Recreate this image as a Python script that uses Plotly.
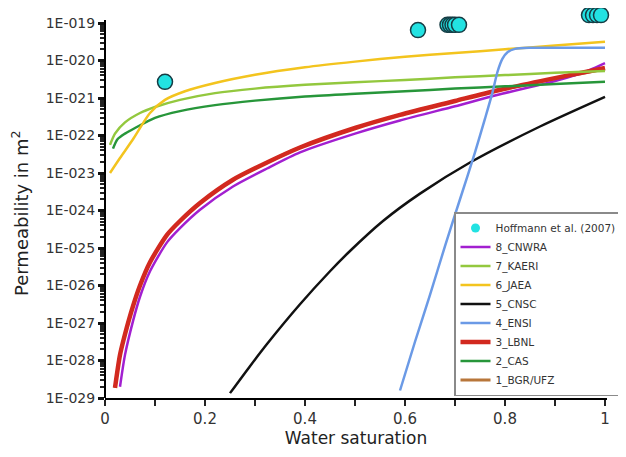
import plotly.graph_objects as go

# ---------------- data (log10 of permeability in m^2) -------------
hoff_sw = [0.12, 0.626, 0.685, 0.69, 0.695, 0.70, 0.708, 0.968, 0.976, 0.984, 0.992]
hoff_logk = [-20.57, -19.19, -19.05, -19.05, -19.05, -19.05, -19.05, -18.79, -18.79, -18.79, -18.79]

cnwra_sw = [0.03, 0.04, 0.056, 0.07, 0.09, 0.124, 0.15, 0.19, 0.256, 0.324, 0.39, 0.50, 0.59, 0.70, 0.784, 0.90, 0.95, 0.97, 1.00]
cnwra_logk = [-28.7, -27.85, -26.95, -26.3, -25.62, -24.85, -24.47, -23.98, -23.36, -22.88, -22.45, -21.95, -21.6, -21.22, -20.92, -20.55, -20.35, -20.25, -20.07]

kaeri_sw = [0.01, 0.02, 0.04, 0.07, 0.10, 0.15, 0.22, 0.30, 0.40, 0.50, 0.60, 0.70, 0.80, 0.90, 1.00]
kaeri_logk = [-22.25, -21.95, -21.65, -21.4, -21.24, -21.05, -20.87, -20.75, -20.65, -20.58, -20.52, -20.45, -20.39, -20.33, -20.28]

jaea_sw = [0.01, 0.03, 0.056, 0.09, 0.12, 0.16, 0.22, 0.30, 0.40, 0.50, 0.60, 0.70, 0.80, 0.90, 1.00]
jaea_logk = [-23.0, -22.6, -22.1, -21.4, -21.05, -20.82, -20.6, -20.38, -20.18, -20.03, -19.9, -19.8, -19.7, -19.6, -19.5]

cnsc_sw = [0.25, 0.29, 0.324, 0.39, 0.45, 0.49, 0.556, 0.63, 0.73, 0.87, 1.00]
cnsc_logk = [-28.87, -28.15, -27.56, -26.5, -25.62, -25.08, -24.28, -23.55, -22.72, -21.76, -20.97]

ensi_sw = [0.59, 0.62, 0.65, 0.68, 0.71, 0.74, 0.76, 0.775, 0.785, 0.795, 0.805, 0.82, 0.85, 0.90, 1.00]
ensi_logk = [-28.8, -27.5, -26.25, -24.95, -23.7, -22.45, -21.55, -20.85, -20.3, -19.95, -19.78, -19.69, -19.66, -19.66, -19.66]

lbnl_sw = [0.02, 0.03, 0.04, 0.056, 0.07, 0.09, 0.124, 0.15, 0.19, 0.256, 0.324, 0.39, 0.50, 0.59, 0.70, 0.784, 0.90, 1.00]
lbnl_logk = [-28.73, -27.85, -27.3, -26.55, -26.0, -25.38, -24.65, -24.28, -23.8, -23.18, -22.72, -22.32, -21.8, -21.45, -21.08, -20.8, -20.47, -20.2]

cas_sw = [0.016, 0.025, 0.04, 0.06, 0.10, 0.15, 0.22, 0.30, 0.40, 0.50, 0.60, 0.70, 0.80, 0.90, 1.00]
cas_logk = [-22.35, -22.1, -21.95, -21.8, -21.53, -21.35, -21.19, -21.07, -20.96, -20.89, -20.82, -20.75, -20.69, -20.63, -20.57]

bgr_sw = [0.02, 0.03, 0.04, 0.056, 0.07, 0.09, 0.124, 0.15, 0.19, 0.256, 0.324, 0.39, 0.50, 0.59, 0.70, 0.784, 0.90, 1.00]
bgr_logk = [-28.73, -27.85, -27.3, -26.55, -26.0, -25.38, -24.65, -24.28, -23.8, -23.18, -22.72, -22.32, -21.8, -21.45, -21.08, -20.81, -20.49, -20.23]

ytick_exp = list(range(-29, -18))
ytick_text = ["1E-0%02d" % (-e) for e in ytick_exp]
xtick_vals = [0, 0.2, 0.4, 0.6, 0.8, 1.0]
xtick_text = ["0", "0.2", "0.4", "0.6", "0.8", "1"]

FONT = "DejaVu Sans, Verdana, sans-serif"


def k(vals):
    return [10 ** v for v in vals]


fig = go.Figure()

# drawing order (bottom -> top); legendrank controls legend order
series = [
    ("1_BGR/UFZ", bgr_sw, bgr_logk, "#b8763a", 3, 8),
    ("8_CNWRA", cnwra_sw, cnwra_logk, "#a21fd0", 2.5, 1),
    ("3_LBNL", lbnl_sw, lbnl_logk, "#d2291f", 4.5, 6),
    ("2_CAS", cas_sw, cas_logk, "#27963a", 2.5, 7),
    ("7_KAERI", kaeri_sw, kaeri_logk, "#93c83e", 2.5, 2),
    ("6_JAEA", jaea_sw, jaea_logk, "#f3c41e", 2.5, 3),
    ("5_CNSC", cnsc_sw, cnsc_logk, "#111111", 2.5, 4),
    ("4_ENSI", ensi_sw, ensi_logk, "#6b9ae6", 2.5, 5),
]
for name, xs, ys, col, w, rank in series:
    fig.add_trace(go.Scatter(
        x=xs, y=k(ys), mode="lines", name=name,
        line=dict(color=col, width=w, shape="spline", smoothing=0.7),
        legendrank=rank,
    ))

fig.add_trace(go.Scatter(
    x=hoff_sw, y=k(hoff_logk), mode="markers", name="Hoffmann et al. (2007)",
    marker=dict(size=15, color="#22e2e2", line=dict(color="#163c44", width=1.5)),
    cliponaxis=False, showlegend=False,
))
fig.add_trace(go.Scatter(
    x=[None], y=[None], mode="markers", name="Hoffmann et al. (2007)",
    marker=dict(size=9, color="#22e2e2"), legendrank=0,
))

minor_vals = [m * 10 ** e for e in range(-29, -19) for m in range(2, 10)]

# page body has an 8 px margin, so the figure is drawn 8 px smaller and everything
# is placed 8 px up/left of the reference pixel positions.
FIG_W, FIG_H = 618, 449
L_M, R_M, TOP_M, BOT_M = 97, 19, 0, 59
plot_w = FIG_W - L_M - R_M
plot_h = FIG_H - TOP_M - BOT_M          # 1E-029 at bottom, 37.5 px per decade
axis_frac = 375.0 / plot_h
y_top = -29 + plot_h / 37.5

fig.update_layout(
    width=FIG_W, height=FIG_H,
    margin=dict(l=L_M, r=R_M, t=TOP_M, b=BOT_M, autoexpand=False),
    paper_bgcolor="white", plot_bgcolor="white",
    font=dict(family=FONT, color="#333333"),
    legend=dict(
        x=(446 - L_M) / plot_w, y=(390 - 204) / plot_h, xanchor="left", yanchor="top",
        bgcolor="white", bordercolor="#8a8a8a", borderwidth=1.5,
        font=dict(family=FONT, size=10.5, color="#333333"),
        tracegroupgap=0, itemwidth=30,
    ),
    showlegend=True,
    shapes=[dict(type="line", xref="paper", yref="paper", x0=0, x1=0, y0=0, y1=axis_frac + 0.008,
                 line=dict(color="black", width=2), layer="above")],
    annotations=[dict(
        text="Permeability in m<sup>2</sup>", textangle=-90, showarrow=False,
        xref="paper", yref="paper", x=(12 - L_M) / plot_w, y=(390 - 205) / plot_h,
        xanchor="center", yanchor="middle",
        font=dict(family=FONT, size=18, color="#222222"),
    )],
)
fig.update_xaxes(
    range=[0, 1.004], showgrid=False, zeroline=False, automargin=False,
    showline=True, linecolor="black", linewidth=2,
    tickmode="array", tickvals=xtick_vals, ticktext=xtick_text,
    ticks="outside", ticklen=6, tickwidth=2, tickcolor="#222222",
    minor=dict(dtick=0.1, ticks="outside", ticklen=6, tickwidth=2, tickcolor="#222222"),
    tickfont=dict(family=FONT, size=15, color="#333333"),
    title=dict(text="Water saturation", font=dict(family=FONT, size=17, color="#222222"), standoff=4),
)
fig.update_yaxes(
    type="log", range=[-29, y_top], showgrid=False, zeroline=False, automargin=False,
    showline=False,
    tickmode="array", tickvals=[10 ** e for e in ytick_exp], ticktext=ytick_text,
    ticks="outside", ticklen=6, tickwidth=3, tickcolor="#111111",
    minor=dict(tickmode="array", tickvals=minor_vals, ticks="outside", ticklen=4,
               tickwidth=1.5, tickcolor="#222222"),
    tickfont=dict(family=FONT, size=14, color="#333333"),
)

fig.write_html("out.html")
